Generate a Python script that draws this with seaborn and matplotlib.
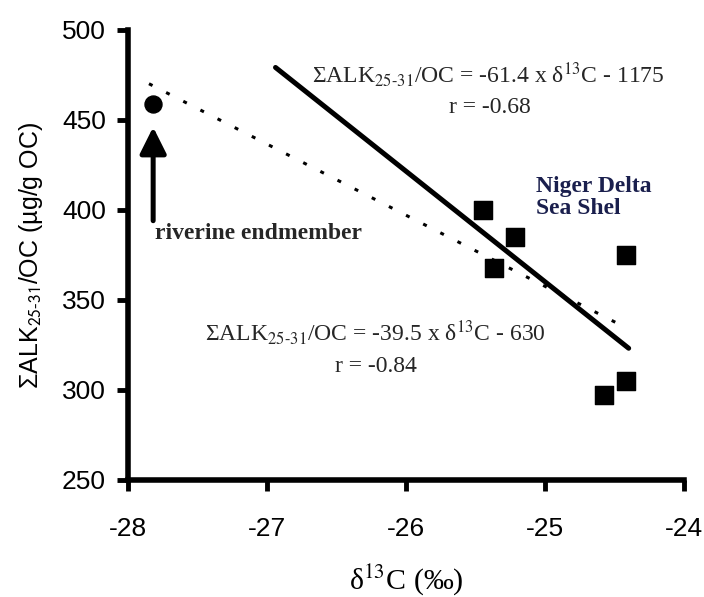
import numpy as np
import pandas as pd
import matplotlib
matplotlib.use("Agg")
import matplotlib.pyplot as plt
import seaborn as sns

# data
river_d13c = [-27.82]
river_alk = [459]
shelf_d13c = [-25.45, -25.37, -25.22, -24.58, -24.42, -24.42]
shelf_alk = [400, 368, 385, 297, 305, 375]

# regression lines: slope, intercept, x range
fit_all = {"slope": -39.5, "intercept": -630, "x": [-27.85, -24.4]}
fit_shelf = {"slope": -61.4, "intercept": -1175, "x": [-26.94, -24.4]}

x_ticks = [-28, -27, -26, -25, -24]
y_ticks = [250, 300, 350, 400, 450, 500]

sns.set_style("ticks")
plt.rcParams["font.family"] = ["Liberation Serif", "DejaVu Serif"]
plt.rcParams["mathtext.fontset"] = "stix"

fig = plt.figure(figsize=(7.04, 5.97), dpi=100)
ax = fig.add_axes([0.182, 0.196, 0.790, 0.754])

# fitted lines
for fit, style, lw in [(fit_all, (0, (1.3, 5)), 2.2), (fit_shelf, "-", 3.6)]:
    xs = np.array(fit["x"])
    ys = fit["slope"] * xs + fit["intercept"]
    ax.plot(xs, ys, color="black", linestyle=style, linewidth=lw, zorder=2)

df_river = pd.DataFrame({"d13c": river_d13c, "alk": river_alk})
df_shelf = pd.DataFrame({"d13c": shelf_d13c, "alk": shelf_alk})
sns.scatterplot(data=df_river, x="d13c", y="alk", marker="o", s=150,
                color="black", edgecolor="black", ax=ax, zorder=3)
sns.scatterplot(data=df_shelf, x="d13c", y="alk", marker="s", s=170,
                color="black", edgecolor="black", ax=ax, zorder=3)

# arrow pointing to the riverine endmember
ax.annotate("", xy=(river_d13c[0], 446), xytext=(river_d13c[0], 394),
            arrowprops=dict(arrowstyle="-|>,head_length=1.6,head_width=0.8",
                            color="black", lw=3.6, shrinkA=0, shrinkB=0))
ax.text(-27.81, 387, "riverine endmember", fontsize=17, fontweight="bold",
        ha="left", va="center")

ax.text(-25.41, 475, r"ΣALK$_{25\text{-}31}$/OC = -61.4 x δ$^{13}$C - 1175",
        fontsize=17, ha="center", va="center")
ax.text(-25.40, 457, "r = -0.68", fontsize=17, ha="center", va="center")
ax.text(-26.22, 332, r"ΣALK$_{25\text{-}31}$/OC = -39.5 x δ$^{13}$C - 630",
        fontsize=17, ha="center", va="center")
ax.text(-26.22, 313, "r = -0.84", fontsize=17, ha="center", va="center")

ax.text(-25.07, 407, "Niger Delta\nSea Shel", fontsize=17, fontweight="bold",
        color="#1a1f4d", ha="left", va="center", linespacing=1.05)

ax.set_xlim(-28, -24)
ax.set_ylim(250, 500)
ax.set_xticks(x_ticks)
ax.set_yticks(y_ticks)
ax.set_xticklabels([str(t) for t in x_ticks], family="Liberation Sans")
ax.set_yticklabels([str(t) for t in y_ticks], family="Liberation Sans")
ax.tick_params(labelsize=19, width=3.5, length=8, direction="out",
               color="black", labelcolor="black")
ax.tick_params(axis="x", pad=19)
ax.tick_params(axis="y", pad=8)
for side in ["left", "bottom"]:
    ax.spines[side].set_linewidth(4)
    ax.spines[side].set_color("black")
sns.despine(ax=ax)

ax.set_xlabel(r"δ$^{13}$C (‰)", fontsize=21.5, labelpad=15, color="black")
ax.set_ylabel(r"ΣALK$_{\mathsf{25}\text{-}\mathsf{31}}$/OC (µg/g OC)",
              fontsize=18, family="Liberation Sans", labelpad=12,
              color="black")

fig.savefig("out.png", dpi=100)
